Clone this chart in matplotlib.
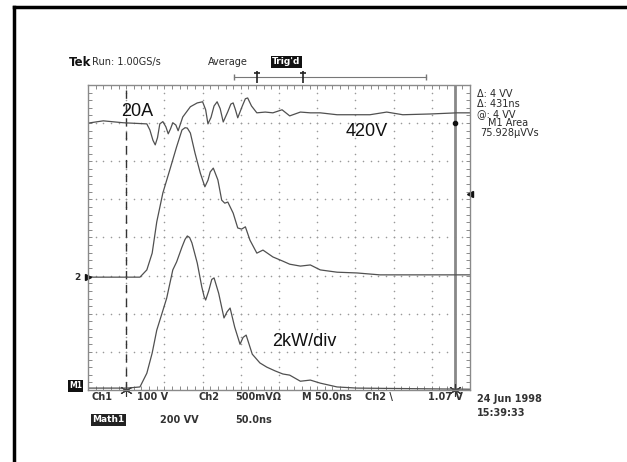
# -*- coding: utf-8 -*-
"""
Scope capture: switching transient (current, voltage, power) on a Tek screen.
"""

import numpy as np
import matplotlib.pyplot as plt
from matplotlib.lines import Line2D
from matplotlib.ticker import MultipleLocator

# -----------------------------------------------------------------------------
# Traces: time in ns (50 ns/div), amplitude in divisions
cur_t = [0, 20, 46, 77, 81, 85, 88, 91, 94, 98, 102, 105, 108, 111, 115,
         118, 124, 134, 143, 150, 154, 157, 161, 165, 169, 173, 177, 183,
         187, 190, 193, 196, 202, 206, 209, 214, 221, 232, 242, 254, 264,
         278, 291, 304, 326, 369, 391, 412, 448, 483, 500]
cur_y = [3.00, 3.06, 3.01, 2.98, 2.82, 2.55, 2.43, 2.62, 2.98, 3.04, 2.90,
         2.72, 2.85, 3.01, 2.95, 2.80, 3.16, 3.43, 3.53, 3.56, 3.35, 2.98,
         3.15, 3.45, 3.56, 3.38, 3.03, 3.30, 3.50, 3.53, 3.35, 3.14, 3.45,
         3.64, 3.66, 3.45, 3.27, 3.29, 3.27, 3.35, 3.19, 3.29, 3.27, 3.27,
         3.22, 3.22, 3.29, 3.22, 3.24, 3.27, 3.27]

volt_t = [0, 68, 77, 84, 90, 98, 107, 116, 123, 127, 130, 134, 140, 147,
          153, 157, 160, 164, 170, 175, 179, 183, 190, 196, 201, 206, 212,
          221, 229, 242, 255, 264, 278, 291, 304, 326, 352, 382, 412, 483,
          500]
volt_y = [-1.04, -1.04, -0.85, -0.41, 0.41, 1.17, 1.77, 2.38, 2.82, 2.88,
          2.87, 2.74, 2.22, 1.69, 1.33, 1.50, 1.72, 1.82, 1.51, 0.98, 0.90,
          0.93, 0.64, 0.25, 0.22, 0.28, -0.07, -0.41, -0.33, -0.51, -0.62,
          -0.70, -0.75, -0.72, -0.85, -0.91, -0.93, -0.98, -0.98, -0.98,
          -0.98]

pow_t = [0, 51, 68, 77, 84, 90, 97, 103, 111, 116, 123, 127, 130, 133, 136,
         143, 149, 152, 154, 158, 162, 165, 171, 178, 182, 186, 192, 199,
         203, 207, 215, 225, 234, 245, 255, 264, 278, 291, 304, 326, 352,
         500]
pow_y = [-3.95, -3.95, -3.92, -3.56, -3.03, -2.43, -1.98, -1.59, -0.85,
         -0.64, -0.25, -0.05, 0.04, 0.00, -0.14, -0.67, -1.30, -1.55, -1.64,
         -1.40, -1.10, -1.06, -1.46, -2.11, -1.95, -1.85, -2.35, -2.80,
         -2.62, -2.56, -3.06, -3.29, -3.40, -3.50, -3.58, -3.61, -3.77,
         -3.74, -3.82, -3.92, -3.95, -3.98]

cursor1_t = 50.0
cursor2_t = 481.0

header = ["Tek", "Run: 1.00GS/s", "Average", "Trig'd"]
readout = ["\u0394: 4 VV", "\u0394: 431ns", "@: 4 VV", "M1 Area",
           "75.928\u00b5VVs"]
bottom1 = ["Ch1", "100 V", "Ch2", "500mV\u03a9", "M 50.0ns", "Ch2 \\",
           "1.07 V"]
bottom2 = ["Math1", "200 VV", "50.0ns"]
stamp = ["24 Jun 1998", "15:39:33"]

W, H = 627, 462
TRACE = '#505050'
GRID = '#8a8a8a'
TXT = '#2a2a2a'


# -----------------------------------------------------------------------------
def fx(x):
    return x / W


def fy(y):
    return 1 - y / H


# -----------------------------------------------------------------------------
def main():
    fig = plt.figure(figsize=(W / 100, H / 100), dpi=100)
    fig.patch.set_facecolor('white')

    # outer frame (left and top edges)
    fig.add_artist(Line2D([fx(14), fx(14)], [fy(7), 0], color='black', lw=2.5))
    fig.add_artist(Line2D([fx(14), 1], [fy(7), fy(7)], color='black', lw=2.5))

    ax = fig.add_axes([fx(88), fy(390), (470 - 88) / W, (390 - 85) / H])
    ax.set_xlim(0, 500)
    ax.set_ylim(-4, 4)
    ax.set_facecolor('white')
    for s in ax.spines.values():
        s.set_color(GRID)
        s.set_linewidth(1.0)
    ax.xaxis.set_major_locator(MultipleLocator(50))
    ax.xaxis.set_minor_locator(MultipleLocator(10))
    ax.yaxis.set_major_locator(MultipleLocator(1))
    ax.yaxis.set_minor_locator(MultipleLocator(0.2))
    ax.tick_params(which='both', direction='in', top=True, right=True,
                   length=3, width=0.7, color=GRID,
                   labelbottom=False, labelleft=False)

    # dotted graticule
    for gx in np.arange(50, 500, 50):
        yy = np.arange(-3.8, 4.0, 0.2)
        ax.scatter(np.full_like(yy, gx), yy, s=1.3, color='#999999', lw=0)
    for gy in np.arange(-3, 4, 1):
        xx = np.arange(10, 500, 10)
        ax.scatter(xx, np.full_like(xx, gy, dtype=float), s=1.3,
                   color='#999999', lw=0)

    # cursors
    ax.axvline(cursor1_t, color='#333333', lw=1.0, dashes=(6, 4))
    ax.axvline(cursor2_t, color='#888888', lw=2.0)
    ax.plot([cursor1_t, cursor2_t], [-4, -4], ls='none', marker=(6, 2, 0),
            ms=9, color='#333333', mew=0.8, clip_on=False)

    # traces
    ax.plot(cur_t, cur_y, color=TRACE, lw=0.9)
    ax.plot(volt_t, volt_y, color=TRACE, lw=0.9)
    ax.plot(pow_t, pow_y, color=TRACE, lw=0.9)

    # side markers
    ax.plot([cursor2_t], [3.0], marker='o', ms=3, color='#111111',
            clip_on=False)
    ax.plot([500], [1.14], marker='<', ms=4, color='#111111', clip_on=False)
    ax.plot([0], [-1.04], marker='>', ms=4, color='#111111', clip_on=False)
    fig.text(fx(74), fy(277), "2", fontsize=6.5, weight='bold', color=TXT,
             va='center', ha='left')

    # record window indicator above the graticule
    ax.plot([191, 442], [4.21, 4.21], color='#777777', lw=0.8,
            clip_on=False)
    ax.plot([191, 442], [4.21, 4.21], ls='none', marker='|', ms=5,
            color='#777777', clip_on=False)
    ax.plot([221, 281], [4.21, 4.21], ls='none', marker='|', ms=8,
            color='#222222', mew=1.2, clip_on=False)
    ax.plot([221, 281], [4.32, 4.32], ls='none', marker='_', ms=5,
            color='#222222', mew=1.2, clip_on=False)

    # annotations
    afont = dict(family='Liberation Sans', fontsize=13, color='#111111',
                 va='center', ha='left')
    fig.text(fx(121), fy(112), "20A", **afont)
    fig.text(fx(346), fy(132), "420V", **afont)
    fig.text(fx(272), fy(342), "2kW/div", **afont)

    # header
    sfont = dict(fontsize=7, color=TXT, va='center', ha='left')
    fig.text(fx(69), fy(62), header[0], fontsize=8.5, weight='bold',
             color='#111111', va='center', ha='left')
    fig.text(fx(92), fy(62), header[1], **sfont)
    fig.text(fx(208), fy(62), header[2], **sfont)
    fig.text(fx(272), fy(62), header[3], fontsize=6.5, weight='bold',
             color='white', va='center', ha='left',
             bbox=dict(boxstyle='square,pad=0.15', fc='#111111', ec='none'))

    # cursor readout
    for txt, x, y in zip(readout, [477, 477, 477, 488, 480],
                         [94, 104, 114, 123, 133]):
        fig.text(fx(x), fy(y), txt, **sfont)

    # bottom readout
    bfont = dict(fontsize=7, weight='bold', color='#333333', va='center',
                 ha='left')
    for txt, x in zip(bottom1, [92, 137, 199, 235, 302, 365, 428]):
        fig.text(fx(x), fy(397), txt, **bfont)
    fig.text(fx(92), fy(420), bottom2[0], fontsize=6.5, weight='bold',
             color='white', va='center', ha='left',
             bbox=dict(boxstyle='square,pad=0.15', fc='#222222', ec='none'))
    for txt, x in zip(bottom2[1:], [160, 235]):
        fig.text(fx(x), fy(420), txt, **bfont)
    fig.text(fx(477), fy(399), stamp[0], **bfont)
    fig.text(fx(477), fy(413), stamp[1], **bfont)
    fig.text(fx(69), fy(386), "M1", fontsize=5.5, weight='bold',
             color='white', va='center', ha='left',
             bbox=dict(boxstyle='square,pad=0.15', fc='#111111', ec='none'))

    fig.savefig('out.png', dpi=100)


# -----------------------------------------------------------------------------
if __name__ == "__main__":
    main()
